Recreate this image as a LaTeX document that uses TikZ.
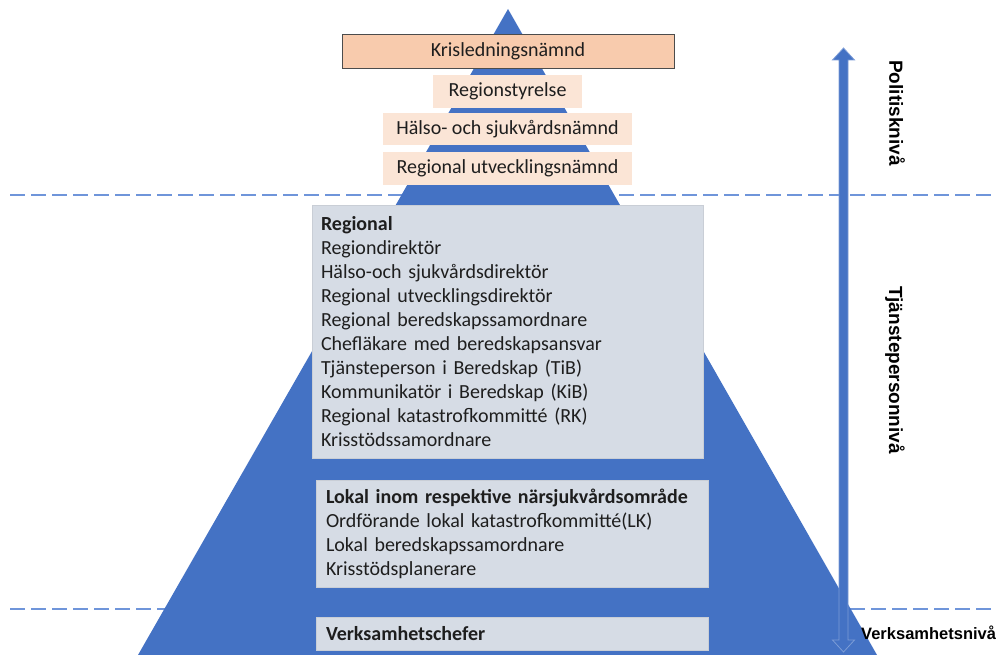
\documentclass[tikz,border=0pt]{standalone}
\usepackage{fontspec}
\setmainfont{Carlito}
\newfontfamily\labelfont{Liberation Sans}
\definecolor{pyrblue}{HTML}{4472C4}
\definecolor{dashblue}{HTML}{6F95DA}
\definecolor{krisfill}{HTML}{F8CBAD}
\definecolor{boardfill}{HTML}{FBE5D6}
\definecolor{staffill}{HTML}{D6DCE5}
\definecolor{boxtext}{HTML}{1E1E1E}
\begin{document}
\begin{tikzpicture}[x=1pt,y=-1pt]
\tikzset{every node/.style={font=\fontsize{20}{24}\selectfont, text=boxtext, inner sep=0pt},
  board/.style={fill=boardfill, minimum height=33pt},
  staff/.style={fill=staffill, draw=staffill!85!gray, line width=0.6pt, align=left, inner xsep=10pt},
  level/.style={font=\labelfont\bfseries\fontsize{19}{21}\selectfont, text=black}}
\useasboundingbox (0,0) rectangle (1003,655);

\draw [dashblue, line width=2pt, dash pattern=on 15pt off 6pt] (10,195) -- (992,195);
\draw [dashblue, line width=2pt, dash pattern=on 15pt off 6pt] (10,609) -- (995,609);
\fill [pyrblue] (508,9) -- (877,655) -- (138,655) -- cycle;

\node [fill=krisfill, draw=black!70, line width=0.8pt, minimum width=332pt, minimum height=34pt] (kris) at (508,51) {Krisledningsnämnd};
\node [board, minimum width=149pt] (styrelse) at (507.5,91.5) {Regionstyrelse};
\node [board, minimum width=249pt, minimum height=32pt] (hsn) at (507.5,129) {Hälso- och sjukvårdsnämnd};
\node [board, minimum width=249pt] (run) at (507.5,168.5) {Regional utvecklingsnämnd};

\node [staff, inner xsep=9pt, text width=373pt, minimum height=253pt] (regional) at (507.5,331.5)
  {\textbf{Regional}\\ Regiondirektör\\ Hälso-och sjukvårdsdirektör\\ Regional utvecklingsdirektör\\
   Regional beredskapssamordnare\\ Chefläkare med beredskapsansvar\\ Tjänsteperson i Beredskap (TiB)\\
   Kommunikatör i Beredskap (KiB)\\ Regional katastrofkommitté (RK)\\ Krisstödssamordnare};
\node [staff, text width=372pt, minimum height=107pt] (lokal) at (512,533.5)
  {\textbf{Lokal inom respektive närsjukvårdsområde}\\ Ordförande lokal katastrofkommitté(LK)\\
   Lokal beredskapssamordnare\\ Krisstödsplanerare};
\node [staff, text width=372pt, minimum height=33pt] (chefer) at (512,633.5) {\textbf{Verksamhetschefer}};

\filldraw [fill=pyrblue, draw=pyrblue!70!white, line width=0.8pt]
  (843.5,48) -- (854.5,60) -- (848,60) -- (848,640) -- (854.5,640) -- (843.5,652)
  -- (832.5,640) -- (839,640) -- (839,60) -- (832.5,60) -- cycle;

\node [level, rotate=-90] (politisk) at (897,113) {Politisknivå};
\node [level, rotate=-90] (tjanst) at (895,370) {Tjänstepersonnivå};
\node [level, font=\labelfont\bfseries\fontsize{16.5}{18}\selectfont, anchor=west] (verksamhet) at (861,633) {Verksamhetsnivå};
\end{tikzpicture}
\end{document}
